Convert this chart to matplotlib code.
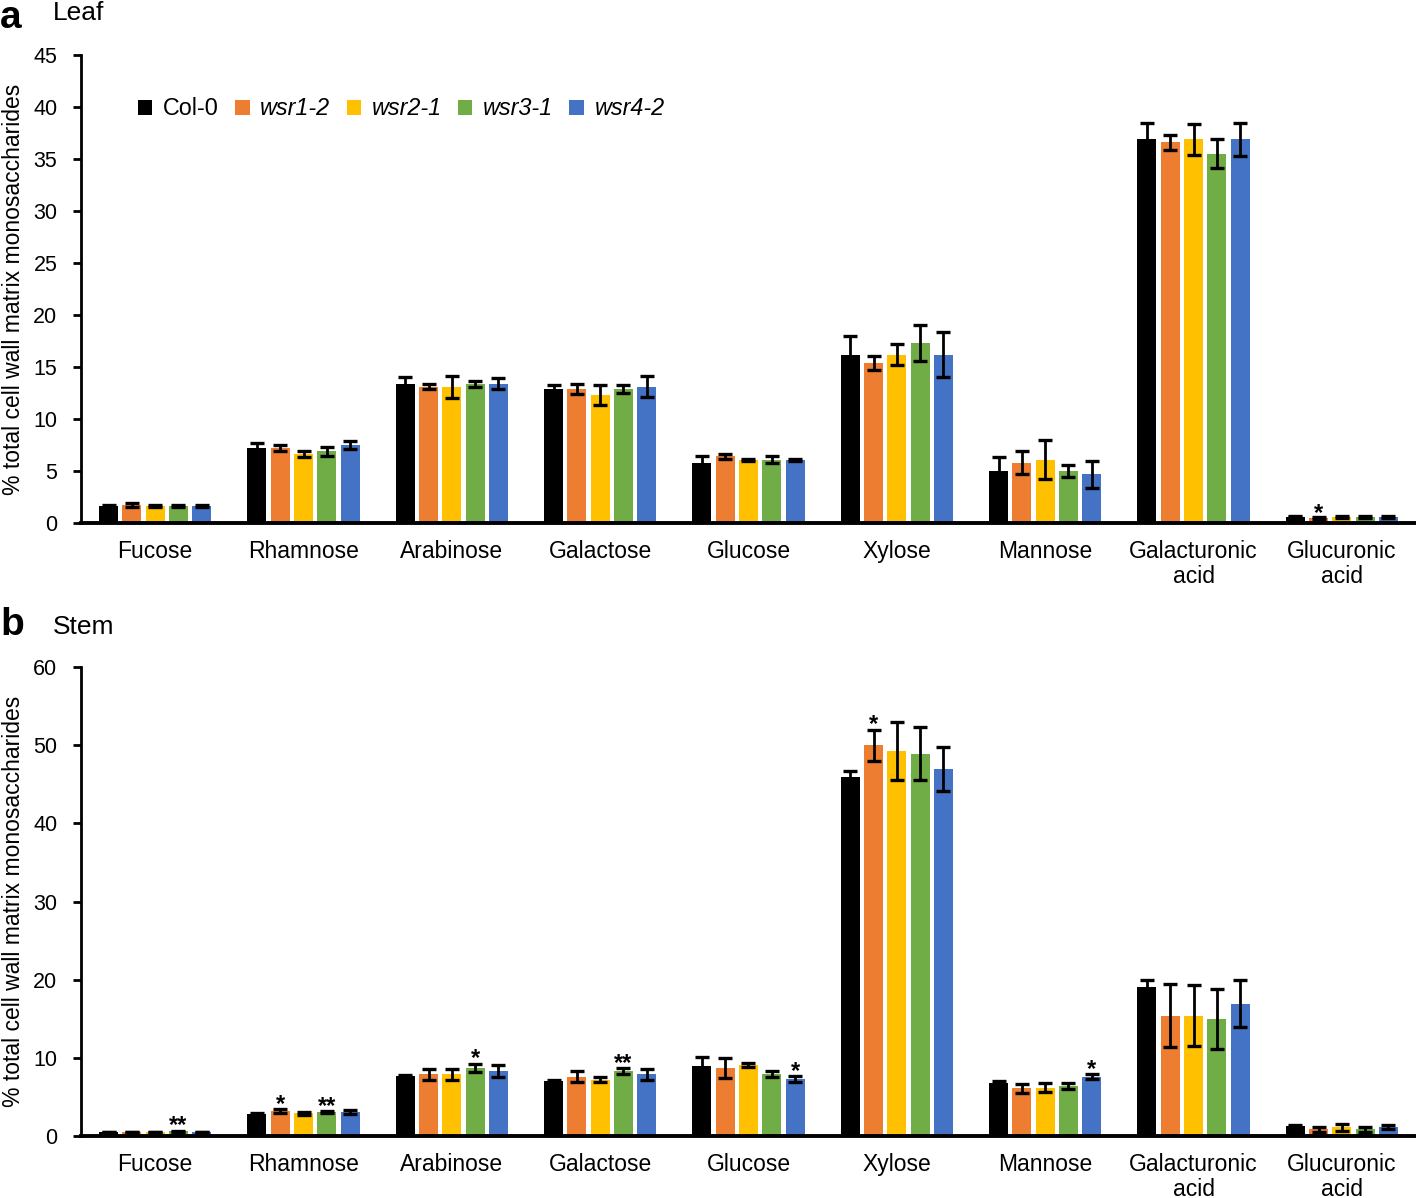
import matplotlib
matplotlib.use("Agg")
import matplotlib.pyplot as plt
import numpy as np

plt.rcParams['font.family'] = ['Liberation Sans', 'DejaVu Sans']

# categorias y lineas
azucares = ["Fucose", "Rhamnose", "Arabinose", "Galactose", "Glucose",
            "Xylose", "Mannose", "Galacturonic\nacid", "Glucuronic\nacid"]
lineas = ["Col-0", "wsr1-2", "wsr2-1", "wsr3-1", "wsr4-2"]
colores = ["#000000", "#ED7D31", "#FFC000", "#70AD47", "#4472C4"]

# Hoja (panel a): medias y errores por linea
hoja_col0 = [1.6, 7.2, 13.4, 12.9, 5.8, 16.2, 5.0, 36.9, 0.6]
hoja_wsr12 = [1.7, 7.2, 13.1, 12.9, 6.4, 15.4, 5.8, 36.6, 0.5]
hoja_wsr21 = [1.6, 6.6, 13.1, 12.3, 6.1, 16.2, 6.1, 36.9, 0.6]
hoja_wsr31 = [1.6, 6.9, 13.4, 12.9, 6.1, 17.3, 5.0, 35.5, 0.6]
hoja_wsr42 = [1.6, 7.5, 13.4, 13.1, 6.1, 16.2, 4.7, 36.9, 0.6]

hoja_err_col0 = [0.1, 0.5, 0.6, 0.4, 0.6, 1.8, 1.35, 1.55, 0.05]
hoja_err_wsr12 = [0.2, 0.3, 0.25, 0.5, 0.2, 0.7, 1.1, 0.7, 0.1]
hoja_err_wsr21 = [0.1, 0.3, 1.05, 0.95, 0.1, 1.05, 1.85, 1.5, 0.1]
hoja_err_wsr31 = [0.1, 0.45, 0.3, 0.4, 0.3, 1.7, 0.55, 1.4, 0.1]
hoja_err_wsr42 = [0.1, 0.4, 0.55, 1.0, 0.1, 2.2, 1.3, 1.6, 0.1]

hoja_sig = [["", "", "", "", "", "", "", "", ""],
            ["", "", "", "", "", "", "", "", "*"],
            ["", "", "", "", "", "", "", "", ""],
            ["", "", "", "", "", "", "", "", ""],
            ["", "", "", "", "", "", "", "", ""]]

# Tallo (panel b)
tallo_col0 = [0.5, 2.8, 7.7, 7.0, 9.0, 45.9, 6.8, 19.1, 1.3]
tallo_wsr12 = [0.5, 3.2, 7.9, 7.6, 8.7, 50.0, 6.1, 15.4, 0.85]
tallo_wsr21 = [0.5, 2.9, 7.9, 7.2, 9.1, 49.2, 6.2, 15.4, 1.1]
tallo_wsr31 = [0.6, 3.1, 8.7, 8.3, 7.9, 48.9, 6.4, 15.0, 0.85]
tallo_wsr42 = [0.5, 3.1, 8.3, 7.9, 7.25, 47.0, 7.6, 16.9, 1.2]

tallo_err_col0 = [0.05, 0.1, 0.1, 0.2, 1.1, 0.8, 0.3, 0.8, 0.1]
tallo_err_wsr12 = [0.05, 0.2, 0.7, 0.7, 1.3, 2.0, 0.55, 4.05, 0.3]
tallo_err_wsr21 = [0.05, 0.2, 0.7, 0.3, 0.25, 3.7, 0.55, 3.9, 0.4]
tallo_err_wsr31 = [0.1, 0.1, 0.55, 0.4, 0.4, 3.4, 0.4, 3.85, 0.35]
tallo_err_wsr42 = [0.05, 0.25, 0.75, 0.7, 0.4, 2.8, 0.3, 3.0, 0.25]

tallo_sig = [["", "", "", "", "", "", "", "", ""],
             ["", "*", "", "", "", "*", "", "", ""],
             ["", "", "", "", "", "", "", "", ""],
             ["**", "**", "*", "**", "", "", "", "", ""],
             ["", "", "", "", "*", "", "*", "", ""]]

hoja = [hoja_col0, hoja_wsr12, hoja_wsr21, hoja_wsr31, hoja_wsr42]
hoja_err = [hoja_err_col0, hoja_err_wsr12, hoja_err_wsr21, hoja_err_wsr31, hoja_err_wsr42]
tallo = [tallo_col0, tallo_wsr12, tallo_wsr21, tallo_wsr31, tallo_wsr42]
tallo_err = [tallo_err_col0, tallo_err_wsr12, tallo_err_wsr21, tallo_err_wsr31, tallo_err_wsr42]

W, H = 1416, 1198
fig = plt.figure(figsize=(W / 100, H / 100), dpi=100)
# ejes colocados en pixeles del original
ax1 = fig.add_axes([81 / W, 1 - 523 / H, (W - 81) / W, 468 / H])
ax2 = fig.add_axes([81 / W, 1 - 1136 / H, (W - 81) / W, 469 / H])

x = np.arange(len(azucares))
paso = 0.157
ancho = 0.128


def dibujar(ax, datos, errores, sig, ymax, ypaso, off_star):
    for i in range(len(lineas)):
        pos = x + (i - 2) * paso
        ax.bar(pos, datos[i], ancho, color=colores[i], label=lineas[i], zorder=2)
        ax.errorbar(pos, datos[i], yerr=errores[i], fmt="none", ecolor="black",
                    elinewidth=2, capsize=4.8, capthick=2.4, zorder=3)
        for j in range(len(azucares)):
            if sig[i][j]:
                ax.text(pos[j], datos[i][j] + errores[i][j] + off_star, sig[i][j],
                        ha="center", va="center", fontsize=17, fontweight="bold")
    ax.set_xlim(-0.5, len(azucares) - 0.5)
    ax.set_ylim(0, ymax)
    ax.set_yticks(np.arange(0, ymax + 1, ypaso))
    ax.set_xticks(x)
    ax.set_xticklabels(azucares, fontsize=16.5, linespacing=1.15)
    ax.tick_params(axis="x", length=0, pad=12)
    ax.tick_params(axis="y", length=6, width=2, labelsize=15.5, pad=11)
    ax.spines["top"].set_visible(False)
    ax.spines["right"].set_visible(False)
    ax.spines["left"].set_linewidth(2)
    ax.spines["bottom"].set_linewidth(2.8)
    ax.set_ylabel("% total cell wall matrix monosaccharides", fontsize=16.5)
    ax.yaxis.set_label_coords(-0.042, 0.5)


dibujar(ax1, hoja, hoja_err, hoja_sig, 45, 5, 0.35)
dibujar(ax2, tallo, tallo_err, tallo_sig, 60, 10, 0.6)

leg = ax1.legend(loc="center left", bbox_to_anchor=(0.0427, 0.885), ncol=5, frameon=False,
                 borderpad=0, borderaxespad=0,
                 handlelength=0.62, handleheight=0.62, handletextpad=0.45,
                 columnspacing=0.7, fontsize=16.8)
for t in leg.get_texts()[1:]:
    t.set_fontstyle("italic")

fig.text(0.0, 1 - 28 / H, "a", fontsize=28, fontweight="bold", va="baseline", ha="left")
fig.text(53 / W, 1 - 20 / H, "Leaf", fontsize=19, va="baseline", ha="left")
fig.text(0.0, 1 - 635 / H, "b", fontsize=28, fontweight="bold", va="baseline", ha="left")
fig.text(53 / W, 1 - 634 / H, "Stem", fontsize=19, va="baseline", ha="left")

plt.savefig("out.png", dpi=100)
